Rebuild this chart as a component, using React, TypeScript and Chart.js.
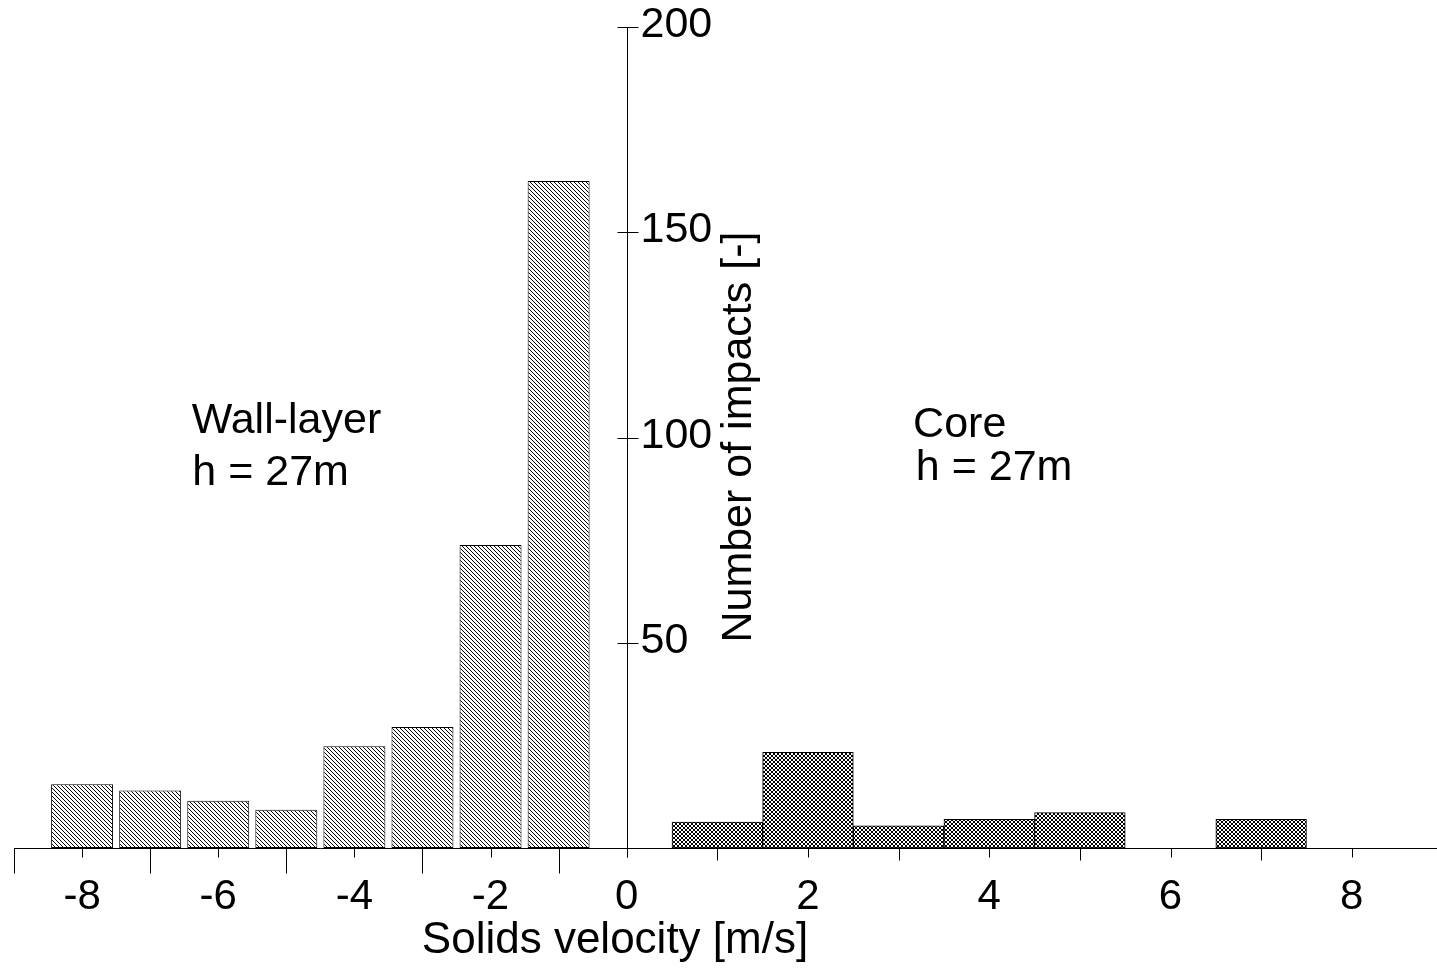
import React, { useEffect, useRef } from 'react';
import { Chart, registerables } from 'chart.js';

Chart.register(...registerables);

// ---- data ----
const wallVelocities = [-8, -7, -6, -5, -4, -3, -2, -1];
const wallCounts = [15.5, 14.0, 11.5, 9.3, 24.8, 29.5, 73.8, 162.5];
const coreVelocities = [1, 2, 3, 4, 5, 7];
const coreCounts = [6.3, 23.3, 5.4, 7.0, 8.6, 7.0];

const wallTicks = [-9, -8, -7, -6, -5, -4, -3, -2, -1, 0];
const coreTicks = [0, 1, 2, 3, 4, 5, 6, 7, 8];
const wallTickLabels = [-8, -6, -4, -2];
const coreTickLabels = [0, 2, 4, 6, 8];
const yTicks = [0, 50, 100, 150, 200];
const yTickLabels = [50, 100, 150, 200];

const xTitle = 'Solids velocity [m/s]';
const yTitle = 'Number of impacts [-]';
const wallNote = ['Wall-layer', 'h = 27m'];
const coreNote = ['Core', 'h = 27m'];

const FAMILY = '"Liberation Sans", Arial, Helvetica, sans-serif';

function makePattern(cross: boolean): CanvasPattern | string {
  const c = document.createElement('canvas');
  c.width = 4;
  c.height = 4;
  const g = c.getContext('2d');
  if (!g) return '#888';
  g.fillStyle = '#fff';
  g.fillRect(0, 0, 4, 4);
  g.fillStyle = '#000';
  for (let i = 0; i < 4; i++) {
    g.fillRect(i, i, 1, 1);
    if (cross) g.fillRect(3 - i, i, 1, 1);
  }
  return g.createPattern(c, 'repeat') || '#888';
}

const overlayPlugin = {
  id: 'overlay',
  afterDraw(chart: any) {
    const ctx: CanvasRenderingContext2D = chart.ctx;
    const xL = chart.scales.xL;
    const xR = chart.scales.xR;
    const y = chart.scales.y;
    const axisY = Math.round(xL.top) + 0.5;
    const x0 = Math.round(xR.getPixelForValue(0)) + 0.5;
    const line = (a: number, b: number, c: number, d: number) => {
      ctx.beginPath();
      ctx.moveTo(a, b);
      ctx.lineTo(c, d);
      ctx.stroke();
    };
    ctx.save();
    ctx.strokeStyle = '#000';
    ctx.lineWidth = 1;
    // x tick marks
    xL.ticks.forEach((t: any) => {
      const px = Math.round(xL.getPixelForValue(t.value)) + 0.5;
      const len = t.value === 0 ? 9 : Math.abs(t.value) % 2 === 1 ? 25 : 9;
      line(px, axisY, px, axisY + len);
    });
    xR.ticks.forEach((t: any) => {
      if (t.value === 0) return;
      const px = Math.round(xR.getPixelForValue(t.value)) + 0.5;
      const len = t.value % 2 === 1 ? 12 : 9;
      line(px, axisY, px, axisY + len);
    });
    // y axis
    line(x0, y.getPixelForValue(200), x0, axisY + 9);
    ctx.fillStyle = '#000';
    ctx.font = `43px ${FAMILY}`;
    ctx.textAlign = 'left';
    ctx.textBaseline = 'middle';
    y.ticks.forEach((t: any) => {
      if (!yTickLabels.includes(t.value)) return;
      const py = Math.round(y.getPixelForValue(t.value)) + 0.5;
      line(x0 - 10, py, x0 + 11, py);
      ctx.fillText(String(t.value), x0 + 13, py - 2);
    });
    // y title (rotated)
    ctx.font = `43px ${FAMILY}`;
    ctx.save();
    ctx.translate(x0 + 123, y.getPixelForValue(100.1));
    ctx.rotate(-Math.PI / 2);
    ctx.textAlign = 'center';
    ctx.textBaseline = 'alphabetic';
    ctx.fillText(yTitle, 0, 0);
    ctx.restore();
    // x title
    ctx.textAlign = 'center';
    ctx.textBaseline = 'alphabetic';
    ctx.font = `44px ${FAMILY}`;
    ctx.fillText(xTitle, 615, 953);
    // notes
    ctx.font = `43px ${FAMILY}`;
    ctx.textAlign = 'left';
    ctx.fillText(wallNote[0], xL.getPixelForValue(-6.39), y.getPixelForValue(101.1));
    ctx.fillText(wallNote[1], xL.getPixelForValue(-6.38), y.getPixelForValue(88.4));
    ctx.fillText(coreNote[0], xR.getPixelForValue(3.16), y.getPixelForValue(100.1));
    ctx.fillText(coreNote[1], xR.getPixelForValue(3.19), y.getPixelForValue(89.6));
    ctx.restore();
  },
};

export default function App() {
  const ref = useRef<HTMLCanvasElement>(null);
  useEffect(() => {
    if (!ref.current) return;
    const hatch = makePattern(false);
    const cross = makePattern(true);
    const tickFont = { family: FAMILY, size: 42 };
    const xGrid = { display: false, drawOnChartArea: false, drawTicks: true, tickLength: 24, offset: false };
    const chart = new Chart(ref.current, {
      type: 'bar',
      data: {
        datasets: [
          {
            label: 'Wall-layer',
            data: wallVelocities.map((v, i) => ({ x: v, y: wallCounts[i] })),
            xAxisID: 'xL',
            yAxisID: 'y',
            backgroundColor: hatch as any,
            borderColor: '#000',
            borderWidth: 1,
            borderSkipped: false,
            grouped: false,
            barPercentage: 0.91,
            categoryPercentage: 1,
          },
          {
            label: 'Core',
            data: coreVelocities.map((v, i) => ({ x: v, y: coreCounts[i] })),
            xAxisID: 'xR',
            yAxisID: 'y',
            backgroundColor: cross as any,
            borderColor: '#000',
            borderWidth: 1,
            borderSkipped: false,
            grouped: false,
            barPercentage: 1,
            categoryPercentage: 1,
          },
        ],
      },
      options: {
        responsive: false,
        animation: false,
        layout: { padding: { left: 14, top: 27, right: 0, bottom: 47.6 } },
        plugins: { legend: { display: false }, tooltip: { enabled: false } },
        scales: {
          xL: {
            type: 'linear',
            position: 'bottom',
            stack: 'vel',
            stackWeight: 612.7,
            min: -9,
            max: 0,
            offset: false,
            grid: xGrid,
            border: { display: true, color: '#000', width: 1 },
            afterBuildTicks: (s: any) => {
              s.ticks = wallTicks.map((v) => ({ value: v }));
            },
            ticks: {
              autoSkip: false,
              maxRotation: 0,
              padding: 0,
              color: '#000',
              font: tickFont,
              callback: (v: any) => (wallTickLabels.includes(Number(v)) ? String(v) : ''),
            },
          },
          xR: {
            type: 'linear',
            position: 'bottom',
            stack: 'vel',
            stackWeight: 810.3,
            min: 0,
            max: 8.94,
            offset: false,
            grid: xGrid,
            border: { display: true, color: '#000', width: 1 },
            afterBuildTicks: (s: any) => {
              s.ticks = coreTicks.map((v) => ({ value: v }));
            },
            ticks: {
              autoSkip: false,
              maxRotation: 0,
              padding: 0,
              color: '#000',
              font: tickFont,
              callback: (v: any) => (coreTickLabels.includes(Number(v)) ? String(v) : ''),
            },
          },
          y: {
            type: 'linear',
            display: false,
            min: 0,
            max: 200,
            afterBuildTicks: (s: any) => {
              s.ticks = yTicks.map((v) => ({ value: v }));
            },
          },
        },
      } as any,
      plugins: [overlayPlugin],
    });
    return () => chart.destroy();
  }, []);
  return (
    <div style={{ position: 'absolute', left: 0, top: 0, width: 1437, height: 970, background: '#fff' }}>
      <canvas ref={ref} width={1437} height={970} style={{ display: 'block', width: 1437, height: 970 }} />
    </div>
  );
}
